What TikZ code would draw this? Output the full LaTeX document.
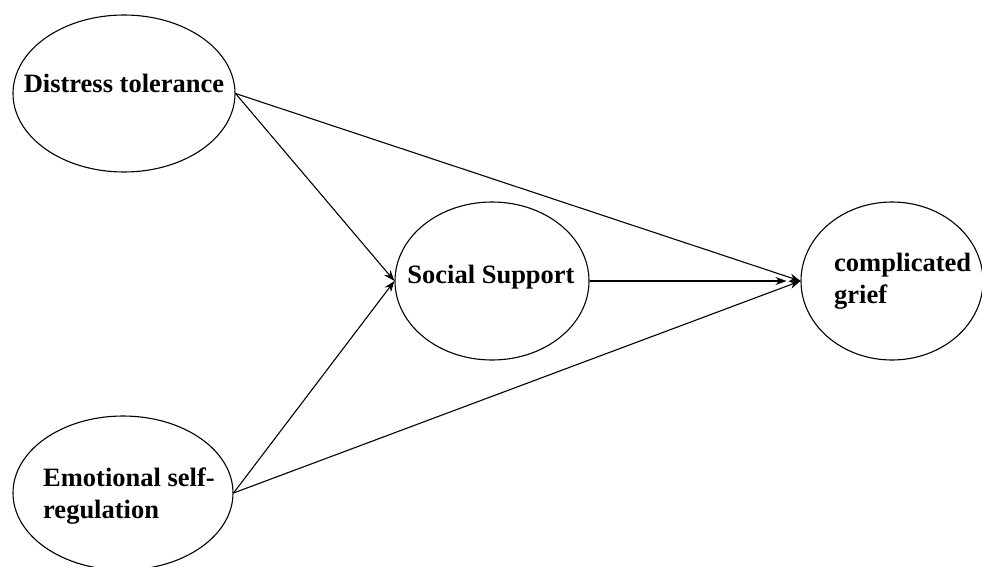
\documentclass[tikz,border=0pt]{standalone}
\usepackage{fontspec}
\setmainfont{Liberation Serif}
\usetikzlibrary{shapes.geometric,arrows.meta}
\begin{document}
\begin{tikzpicture}[x=1pt,y=-1pt,
  oval/.style={draw,ellipse,line width=1.1pt,inner sep=0pt},
  lbl/.style={font=\fontsize{26.5}{32}\selectfont\bfseries,inner sep=0pt},
  conn/.style={line width=1.1pt,-{Stealth[length=11pt,width=8pt]}}]
\useasboundingbox (0,0) rectangle (982,567);
\node[oval,minimum width=222pt,minimum height=157pt] (dt) at (124,93.5) {};
\node[oval,minimum width=220pt,minimum height=154pt] (es) at (123,493) {};
\node[oval,minimum width=194pt,minimum height=158pt] (ss) at (492,281) {};
\node[oval,minimum width=182pt,minimum height=158pt] (cg) at (892,281) {};
\node[lbl] (dtt) at (124,83) {Distress tolerance};
\node[lbl,align=left,anchor=west] (est) at (43,496) {Emotional self-\\regulation};
\node[lbl] (sst) at (491,277) {Social Support};
\node[lbl,align=left,anchor=west] (cgt) at (834,281) {complicated\\grief};
\draw[conn] (dt.east) -- (ss.west);
\draw[conn] (es.east) -- (ss.west);
\draw[conn] (dt.east) -- (cg.west);
\draw[conn] (es.east) -- (cg.west);
\draw[conn,shorten >=14pt] (ss.east) -- (cg.west);
\end{tikzpicture}
\end{document}
